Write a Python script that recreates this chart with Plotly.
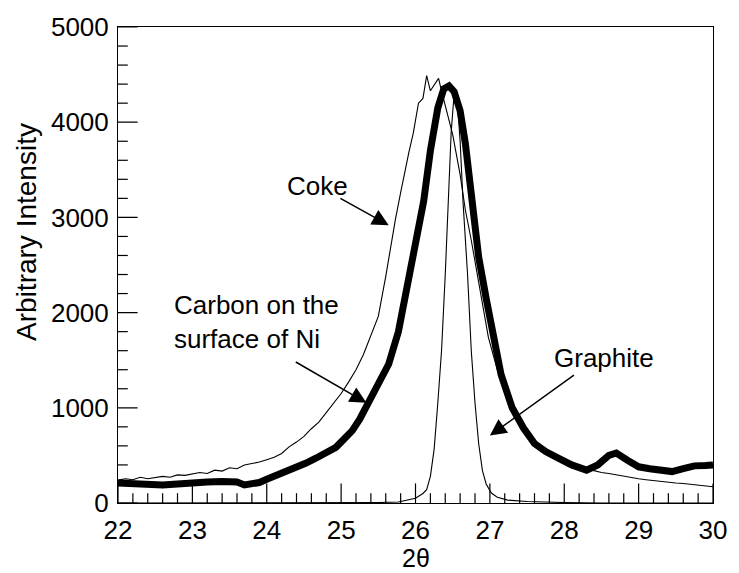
import plotly.graph_objects as go

# ---- data ----
coke_x = [22.0, 22.1, 22.2, 22.3, 22.4, 22.5, 22.6, 22.7, 22.8, 22.9, 23.0, 23.1, 23.2, 23.3, 23.4,
          23.5, 23.6, 23.7, 23.8, 23.9, 24.0, 24.1, 24.2, 24.3, 24.4, 24.5, 24.6, 24.7, 24.8, 24.9,
          25.0, 25.1, 25.2, 25.3, 25.4, 25.5, 25.6, 25.66, 25.73, 25.8, 25.86, 25.91, 25.97, 26.04,
          26.1, 26.15, 26.2, 26.26, 26.31, 26.35, 26.42, 26.5, 26.6, 26.67, 26.75, 26.82, 26.9,
          26.98, 27.1, 27.2, 27.3, 27.45, 27.6, 27.75, 27.9, 28.0, 28.1, 28.2, 28.3, 28.4, 28.5,
          28.6, 28.7, 28.8, 28.9, 29.0, 29.1, 29.2, 29.3, 29.4, 29.5, 29.6, 29.7, 29.8, 29.9, 30.0]
coke_y = [240, 255, 245, 270, 255, 265, 280, 270, 295, 290, 305, 320, 310, 345, 335,
          370, 360, 400, 415, 430, 455, 480, 520, 590, 640, 700, 780, 850, 950, 1050,
          1150, 1270, 1400, 1560, 1760, 1960, 2380, 2670, 2980, 3260, 3500, 3680, 3885, 4200,
          4250, 4490, 4330, 4400, 4460, 4330, 4120, 3870, 3450, 3080, 2760, 2460, 2100,
          1740, 1400, 1180, 1000, 800, 650, 560, 490, 460, 420, 390, 355, 340, 320,
          310, 295, 285, 270, 255, 245, 235, 225, 215, 210, 205, 195, 190, 180, 170]

ni_x = [22.0, 22.2, 22.4, 22.6, 22.8, 23.0, 23.2, 23.4, 23.6, 23.7, 23.8, 23.9, 24.0, 24.13,
        24.26, 24.4, 24.53, 24.66, 24.8, 24.93, 25.05, 25.15, 25.25, 25.37, 25.5, 25.64, 25.77,
        25.9, 26.0, 26.11, 26.2, 26.3, 26.38, 26.45, 26.52, 26.6, 26.67, 26.75, 26.85, 26.95,
        27.05, 27.15, 27.3, 27.45, 27.6, 27.75, 27.9, 28.1, 28.3, 28.45, 28.6, 28.7, 28.85,
        29.0, 29.15, 29.3, 29.45, 29.6, 29.75, 29.9, 30.0]
ni_y = [210, 200, 195, 190, 200, 215, 220, 225, 220, 190, 195, 215, 250, 290,
        330, 370, 420, 470, 520, 585, 680, 760, 880, 1070, 1240, 1460, 1800,
        2300, 2720, 3170, 3700, 4150, 4350, 4380, 4320, 4120, 3780, 3250, 2580, 2150,
        1700, 1350, 1000, 790, 625, 540, 480, 400, 345, 400, 500, 525, 450,
        380, 360, 345, 330, 360, 390, 395, 400]

graphite_x = [22.0, 25.0, 25.5, 25.77, 26.0, 26.1, 26.15, 26.2, 26.25, 26.3, 26.35, 26.4, 26.44,
              26.48, 26.52, 26.56, 26.6, 26.64, 26.7, 26.75, 26.8, 26.85, 26.9, 26.95, 27.02,
              27.1, 27.24, 27.5, 28.0, 28.5, 30.0]
graphite_y = [0, 0, 5, 10, 50, 100, 140, 280, 560, 1050, 1600, 2400, 3150,
              3900, 4300, 4250, 3800, 3150, 2400, 1600, 1050, 620, 340, 200, 105,
              60, 30, 15, 5, 0, 0]

# tick positions
x_major_ticks = [22, 23, 24, 25, 26, 27, 28, 29, 30]
x_minor_ticks = [round(22 + 0.2 * i, 1) for i in range(41) if i % 5 != 0]
y_major_ticks = [0, 1000, 2000, 3000, 4000, 5000]
y_minor_ticks = [200 * i for i in range(26) if i % 5 != 0]

FONT = "Liberation Sans, Arial, Helvetica, sans-serif"
MAJOR_LEN = 14
MINOR_LEN = 7

fig = go.Figure()
fig.add_trace(go.Scatter(x=graphite_x, y=graphite_y, mode="lines",
                         line=dict(color="black", width=1.1), showlegend=False))
fig.add_trace(go.Scatter(x=coke_x, y=coke_y, mode="lines",
                         line=dict(color="black", width=1.1), showlegend=False))
fig.add_trace(go.Scatter(x=ni_x, y=ni_y, mode="lines",
                         line=dict(color="black", width=7), showlegend=False))


def tick_trace(xs, ys, symbol, length):
    # symmetric line marker; the half outside the plot area is clipped away,
    # leaving an inward-pointing tick of the given length
    return go.Scatter(x=xs, y=ys, mode="markers", cliponaxis=True, showlegend=False,
                      hoverinfo="skip",
                      marker=dict(symbol=symbol, size=2 * length, color="black",
                                  line=dict(color="black", width=1.2)))


fig.add_trace(tick_trace(x_major_ticks, [0] * len(x_major_ticks), "line-ns", MAJOR_LEN))
fig.add_trace(tick_trace(x_minor_ticks, [0] * len(x_minor_ticks), "line-ns", MINOR_LEN))
fig.add_trace(tick_trace([22] * len(y_major_ticks), y_major_ticks, "line-ew", MAJOR_LEN))
fig.add_trace(tick_trace([22] * len(y_minor_ticks), y_minor_ticks, "line-ew", MINOR_LEN))

tickfont = dict(family=FONT, size=26, color="black")
fig.update_xaxes(range=[22, 30], tickmode="array", tickvals=x_major_ticks,
                 ticktext=[str(v) for v in x_major_ticks],
                 showgrid=False, zeroline=False, showline=True, linecolor="black",
                 linewidth=1, mirror=True, ticks="", tickfont=tickfont,
                 ticklabelstandoff=4)
fig.update_yaxes(range=[0, 5000], tickmode="array", tickvals=y_major_ticks,
                 ticktext=[str(v) for v in y_major_ticks],
                 showgrid=False, zeroline=False, showline=True, linecolor="black",
                 linewidth=1, mirror=True, ticks="", tickfont=tickfont,
                 ticklabelstandoff=3)

ann_font = dict(family=FONT, size=26, color="black")
annotations = [
    dict(text="2θ", x=0.5, y=-0.115, xref="paper", yref="paper", showarrow=False,
         xanchor="center", yanchor="middle", font=dict(family=FONT, size=25, color="black")),
    dict(text="Arbitrary Intensity", x=-0.155, y=0.569, xref="paper", yref="paper",
         showarrow=False, textangle=-90, xanchor="center", yanchor="middle",
         font=dict(family=FONT, size=28, color="black")),
    dict(text="Coke", x=24.68, y=3333, showarrow=False, font=ann_font),
    dict(text="Carbon on the<br>surface of Ni", x=22.72, y=1906, showarrow=False,
         xanchor="left", align="left", font=ann_font),
    dict(text="Graphite", x=28.53, y=1521, showarrow=False, font=ann_font),
    dict(text="", x=25.64, y=2917, ax=24.97, ay=3208, axref="x", ayref="y",
         showarrow=True, arrowhead=2, arrowsize=2.2, arrowwidth=1.5, arrowcolor="black"),
    dict(text="", x=25.34, y=1052, ax=24.37, ay=1490, axref="x", ayref="y",
         showarrow=True, arrowhead=2, arrowsize=2.2, arrowwidth=1.5, arrowcolor="black"),
    dict(text="", x=27.0, y=708, ax=28.15, ay=1354, axref="x", ayref="y",
         showarrow=True, arrowhead=2, arrowsize=2.2, arrowwidth=1.5, arrowcolor="black"),
]

fig.update_layout(template="simple_white", width=739, height=573,
                  margin=dict(l=118, r=23, t=23, b=70),
                  plot_bgcolor="white", paper_bgcolor="white",
                  font=dict(family=FONT, color="black"),
                  annotations=annotations)

fig.write_html("out.html")
